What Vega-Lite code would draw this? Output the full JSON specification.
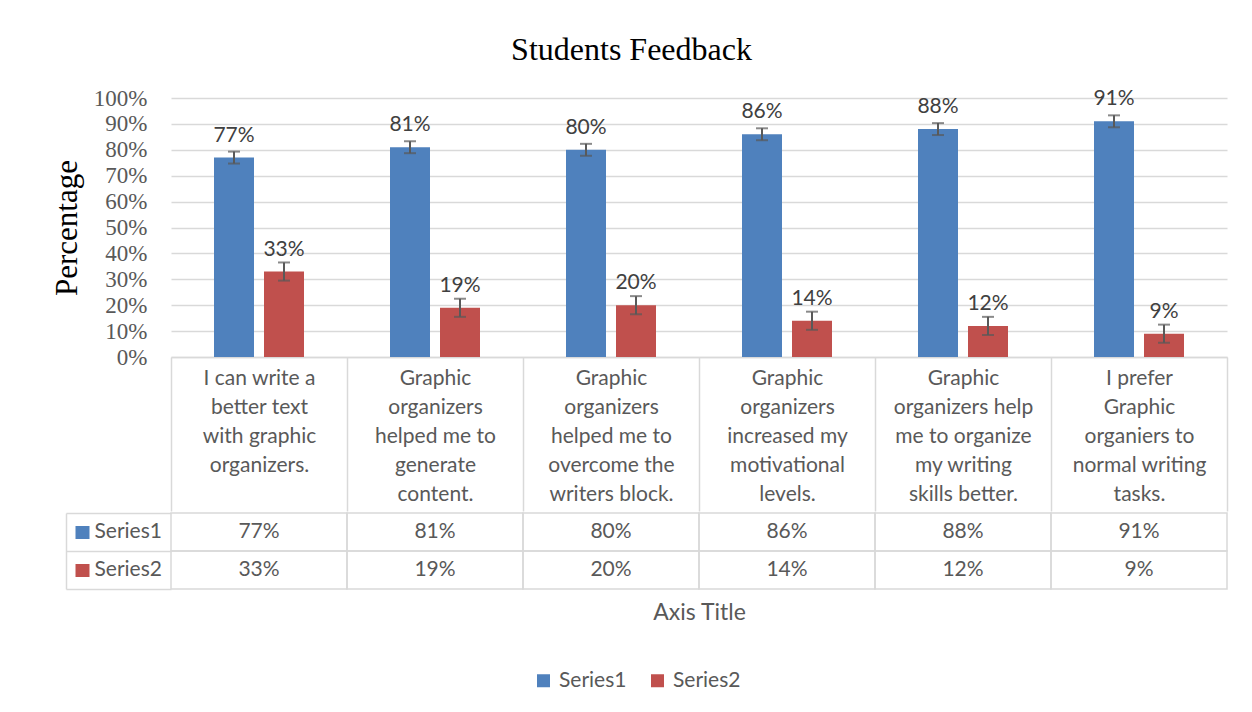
{
  "$schema": "https://vega.github.io/schema/vega-lite/v6.json",
  "padding": {"left": 51, "top": 34, "right": 25, "bottom": 8},
  "background": "#ffffff",
  "title": {"text": "Students Feedback", "font": "Liberation Serif", "fontSize": 32, "fontWeight": "normal", "color": "#000000", "anchor": "middle", "offset": 20, "dx": -8},
  "datasets": {
    "bars": [
      {"category": "I can write a\nbetter text\nwith graphic\norganizers.", "series": "Series1", "value": 0.77, "lo": 0.747, "hi": 0.793},
      {"category": "I can write a\nbetter text\nwith graphic\norganizers.", "series": "Series2", "value": 0.33, "lo": 0.295, "hi": 0.365},
      {"category": "Graphic\norganizers\nhelped me to\ngenerate\ncontent.", "series": "Series1", "value": 0.81, "lo": 0.787, "hi": 0.833},
      {"category": "Graphic\norganizers\nhelped me to\ngenerate\ncontent.", "series": "Series2", "value": 0.19, "lo": 0.155, "hi": 0.225},
      {"category": "Graphic\norganizers\nhelped me to\novercome the\nwriters block.", "series": "Series1", "value": 0.80, "lo": 0.777, "hi": 0.823},
      {"category": "Graphic\norganizers\nhelped me to\novercome the\nwriters block.", "series": "Series2", "value": 0.20, "lo": 0.165, "hi": 0.235},
      {"category": "Graphic\norganizers\nincreased my\nmotivational\nlevels.", "series": "Series1", "value": 0.86, "lo": 0.837, "hi": 0.883},
      {"category": "Graphic\norganizers\nincreased my\nmotivational\nlevels.", "series": "Series2", "value": 0.14, "lo": 0.105, "hi": 0.175},
      {"category": "Graphic\norganizers help\nme to organize\nmy writing\nskills better.", "series": "Series1", "value": 0.88, "lo": 0.857, "hi": 0.903},
      {"category": "Graphic\norganizers help\nme to organize\nmy writing\nskills better.", "series": "Series2", "value": 0.12, "lo": 0.085, "hi": 0.155},
      {"category": "I prefer\nGraphic\norganiers to\nnormal writing\ntasks.", "series": "Series1", "value": 0.91, "lo": 0.887, "hi": 0.933},
      {"category": "I prefer\nGraphic\norganiers to\nnormal writing\ntasks.", "series": "Series2", "value": 0.09, "lo": 0.055, "hi": 0.125}
    ]
  },
  "spacing": 0,
  "vconcat": [
    {
      "width": 1056,
      "height": 259,
      "data": {"name": "bars"},
      "encoding": {
        "x": {
          "field": "category", "type": "nominal", "sort": null,
          "scale": {"paddingInner": 0, "paddingOuter": 0},
          "axis": {
            "title": null, "orient": "bottom",
            "domain": true, "domainColor": "#d9d9d9", "domainWidth": 1.5,
            "ticks": true, "tickBand": "extent", "tickSize": 154, "tickColor": "#d9d9d9", "tickWidth": 1.5,
            "labelExpr": "split(datum.label, '\\n')",
            "labelAngle": 0, "labelBaseline": "top", "labelAlign": "center", "labelPadding": -144,
            "labelFont": "Lato", "labelFontSize": 21, "labelColor": "#595959", "labelLineHeight": 29,
            "labelLimit": 0, "labelOverlap": false, "minExtent": 154, "maxExtent": 154
          }
        },
        "xOffset": {"field": "series", "type": "nominal", "scale": {"paddingInner": 0.2, "paddingOuter": 0.86}}
      },
      "layer": [
        {
          "mark": {"type": "bar"},
          "encoding": {
            "y": {
              "field": "value", "type": "quantitative",
              "scale": {"domain": [0, 1], "nice": false},
              "axis": {
                "title": "Percentage", "titleFont": "Liberation Serif", "titleFontSize": 31, "titleFontWeight": "normal", "titleColor": "#000000", "titlePadding": 10,
                "format": ".0%", "tickCount": 10,
                "labelOverlap": false,
                "labelFont": "Liberation Serif", "labelFontSize": 23, "labelColor": "#595959", "labelPadding": 24,
                "domain": false, "ticks": false, "grid": true, "gridColor": "#d9d9d9", "gridWidth": 1.5
              }
            },
            "color": {
              "field": "series", "type": "nominal",
              "scale": {"domain": ["Series1", "Series2"], "range": ["#4f81bd", "#c0504d"]},
              "legend": {
                "orient": "none", "legendX": 362, "legendY": 572, "direction": "horizontal", "title": null,
                "symbolType": "square", "symbolSize": 169, "symbolStrokeWidth": 0,
                "labelFont": "Lato", "labelFontSize": 21, "labelColor": "#595959",
                "columnPadding": 20, "labelOffset": 5
              }
            }
          }
        },
        {
          "mark": {"type": "rule", "color": "#595959", "strokeWidth": 2},
          "encoding": {"y": {"field": "lo", "type": "quantitative"}, "y2": {"field": "hi"}}
        },
        {
          "mark": {"type": "tick", "size": 12, "thickness": 2, "color": "#595959"},
          "encoding": {"y": {"field": "lo", "type": "quantitative"}}
        },
        {
          "mark": {"type": "tick", "size": 12, "thickness": 2, "color": "#595959"},
          "encoding": {"y": {"field": "hi", "type": "quantitative"}}
        },
        {
          "mark": {"type": "text", "baseline": "alphabetic", "dy": -16, "font": "Lato", "fontSize": 21, "color": "#404040"},
          "encoding": {"y": {"field": "value", "type": "quantitative"}, "text": {"field": "value", "type": "quantitative", "format": ".0%"}}
        }
      ]
    },
    {
      "width": 1056,
      "height": 76,
      "data": {"name": "bars"},
      "encoding": {
        "x": {
          "field": "category", "type": "nominal", "sort": null,
          "scale": {"paddingInner": 0, "paddingOuter": 0},
          "axis": {"title": "Axis Title", "labels": false, "ticks": false, "domain": false, "grid": false,
                   "titleFont": "Lato", "titleFontSize": 23, "titleColor": "#595959", "titleFontWeight": "normal", "titlePadding": 12}
        }
      },
      "layer": [
        {
          "mark": {"type": "rect", "fillOpacity": 0, "stroke": "#d9d9d9", "strokeWidth": 1.5},
          "encoding": {
            "y": {
              "field": "series", "type": "nominal",
              "scale": {"paddingInner": 0, "paddingOuter": 0},
              "axis": {
                "orient": "left", "title": null, "domain": false, "grid": false, "offset": 82,
                "ticks": true, "tickSize": 14, "tickWidth": 13,
                "tickColor": {"condition": {"test": "datum.value === 'Series1'", "value": "#4f81bd"}, "value": "#c0504d"},
                "labelAlign": "left", "labelPadding": -19, "labelBaseline": "middle",
                "labelFont": "Lato", "labelFontSize": 21, "labelColor": "#595959"
              }
            }
          }
        },
        {
          "mark": {"type": "text", "font": "Lato", "fontSize": 21, "color": "#595959", "baseline": "middle"},
          "encoding": {
            "y": {
              "field": "series", "type": "nominal",
              "axis": {
                "orient": "left", "title": null, "labels": false, "grid": false,
                "domain": true, "domainColor": "#d9d9d9", "domainWidth": 1.5, "offset": 105,
                "ticks": true, "tickBand": "extent", "tickSize": -105, "tickColor": "#d9d9d9", "tickWidth": 1.5
              }
            },
            "text": {"field": "value", "type": "quantitative", "format": ".0%"}
          }
        }
      ],
      "resolve": {"axis": {"y": "independent"}}
    }
  ],
  "config": {"view": {"stroke": null}, "axisQuantitative": {"tickCount": 10, "labelOverlap": false}}
}
